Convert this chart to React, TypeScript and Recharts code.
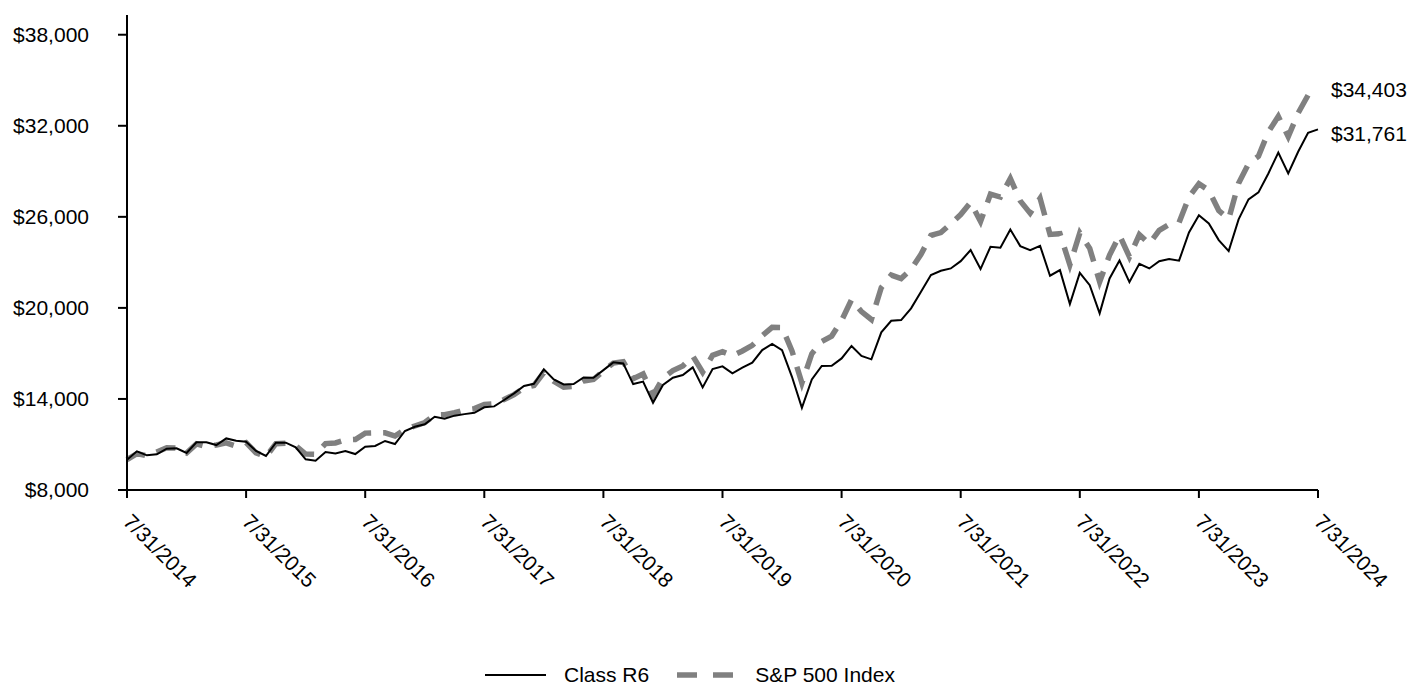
import React from 'react';
import { LineChart, Line, XAxis, YAxis, Legend } from 'recharts';

// Growth of $10,000, monthly from 7/31/2014 to 7/31/2024
const classR6: number[] = [
  10000, 10550, 10285, 10350, 10720, 10750, 10440, 11140, 11140, 10960, 11400, 11250,
  11180, 10570, 10240, 11120, 11120, 10810, 10020, 9930, 10500, 10400, 10570, 10370,
  10855, 10900, 11230, 11030, 11890, 12170, 12330, 12830, 12700, 12900, 13000, 13090,
  13450, 13510, 13930, 14370, 14850, 15000, 15950, 15290, 14960, 14980, 15420, 15400,
  15900, 16410, 16340, 14980, 15140, 13750, 14920, 15400, 15575, 16080, 14760, 15970,
  16150, 15690, 16060, 16390, 17220, 17620, 17220, 15460, 13420, 15290, 16170, 16190,
  16670, 17490, 16830, 16610, 18390, 19150, 19200, 19970, 21060, 22160, 22450, 22600,
  23080, 23810, 22560, 24030, 23960, 25170, 24070, 23810, 24090, 22120, 22490, 20250,
  22310, 21500, 19640, 21940, 23120, 21700, 22910, 22600, 23080, 23220, 23110, 24970,
  26110, 25560, 24470, 23740, 25830, 27150, 27610, 28860, 30240, 28860, 30290, 31540,
  31761,
];

const sp500: number[] = [
  10000, 10400, 10254, 10504, 10787, 10760, 10437, 11037, 10863, 10967, 11109, 10893,
  11122, 10451, 10193, 11053, 11086, 10911, 10370, 10356, 11058, 11101, 11301, 11330,
  11748, 11765, 11767, 11553, 11980, 12217, 12449, 12943, 12959, 13093, 13277, 13360,
  13635, 13677, 13959, 14284, 14723, 14886, 15739, 15158, 14773, 14829, 15187, 15281,
  15850, 16366, 16460, 15334, 15647, 14234, 15374, 15867, 16175, 16830, 15761, 16872,
  17115, 16845, 17160, 17532, 18169, 18718, 18710, 17170, 15050, 16979, 17787, 18141,
  19164, 20542, 19761, 19235, 21341, 22161, 21937, 22543, 23530, 24787, 24960, 25542,
  26150, 26945, 25692, 27493, 27303, 28526, 27052, 26243, 27217, 24844, 24889, 22836,
  24941, 23924, 21720, 23479, 24792, 23364, 24831, 24225, 25114, 25506, 25616, 27309,
  28186, 27738, 26415, 25860, 28221, 29502, 29998, 31600, 32617, 31286, 32838, 34017,
  34403,
];

const dates: string[] = classR6.map((_, i) => {
  const m = (6 + i) % 12;
  const y = 2014 + Math.floor((6 + i) / 12);
  const d = new Date(y, m + 1, 0).getDate();
  return `${m + 1}/${d}/${y}`;
});

const xTickIdx = [0, 12, 24, 36, 48, 60, 72, 84, 96, 108, 120];
const yTicks = [8000, 14000, 20000, 26000, 32000, 38000];

const seriesNames = { r6: 'Class R6', sp: 'S&P 500 Index' };

const data = dates.map((date, i) => ({ idx: i, date, r6: classR6[i], sp: sp500[i] }));

const FONT = 'Arial, "Liberation Sans", sans-serif';
const LAST = data.length - 1;
const money = (v: number) => '$' + v.toLocaleString('en-US');

const XTick = (props: any) => {
  const { x, y, payload } = props;
  const ax = x - 5;
  const ay = y + 23;
  return (
    <text
      x={ax}
      y={ay}
      transform={`rotate(45, ${ax}, ${ay})`}
      textAnchor="start"
      fontSize={21}
      fontFamily={FONT}
      fill="#000"
    >
      {dates[payload.value]}
    </text>
  );
};

const makeEndLabel = (offset: number) => (props: any) => {
  const { x, y, index, value } = props;
  if (index !== LAST) return null;
  return (
    <text
      x={x + 13}
      y={y + offset}
      dy="0.35em"
      textAnchor="start"
      fontSize={21}
      fontFamily={FONT}
      fill="#000"
    >
      {money(value)}
    </text>
  );
};

const LegendContent = () => (
  <div
    style={{
      display: 'flex',
      alignItems: 'center',
      height: 18,
      paddingLeft: 485,
      fontFamily: FONT,
      fontSize: 21,
      color: '#000',
      lineHeight: '18px',
    }}
  >
    <svg width={61} height={10} style={{ display: 'block' }}>
      <line x1={0} y1={5} x2={61} y2={5} stroke="#000" strokeWidth={2} />
    </svg>
    <span style={{ marginLeft: 18 }}>{seriesNames.r6}</span>
    <svg width={56} height={10} style={{ display: 'block', marginLeft: 28 }}>
      <line x1={0} y1={5} x2={56} y2={5} stroke="#808080" strokeWidth={5.5} strokeDasharray="20 16" />
    </svg>
    <span style={{ marginLeft: 22 }}>{seriesNames.sp}</span>
  </div>
);

export default function App() {
  return (
    <div style={{ position: 'absolute', left: 0, top: 0, width: 1408, height: 684, background: '#fff' }}>
      <LineChart
        width={1408}
        height={684}
        data={data}
        margin={{ top: 15, right: 90, left: 0, bottom: 0 }}
      >
        <XAxis
          dataKey="idx"
          type="number"
          domain={[0, 120]}
          ticks={xTickIdx}
          interval={0}
          height={176}
          tickSize={8}
          tickMargin={2}
          axisLine={{ stroke: '#000', strokeWidth: 2 }}
          tickLine={{ stroke: '#000', strokeWidth: 2 }}
          tick={<XTick />}
        />
        <YAxis
          type="number"
          domain={[8000, 39300]}
          ticks={yTicks}
          interval={0}
          allowDataOverflow
          width={127}
          tickSize={9}
          tickMargin={29}
          tickFormatter={money}
          axisLine={{ stroke: '#000', strokeWidth: 2 }}
          tickLine={{ stroke: '#000', strokeWidth: 2 }}
          tick={{ fill: '#000', fontSize: 21, fontFamily: FONT }}
        />
        <Legend verticalAlign="bottom" height={18} content={<LegendContent />} />
        <Line
          dataKey="sp"
          name={seriesNames.sp}
          type="linear"
          stroke="#808080"
          strokeWidth={5.5}
          strokeDasharray="20 12"
          dot={false}
          activeDot={false}
          isAnimationActive={false}
          label={makeEndLabel(0)}
        />
        <Line
          dataKey="r6"
          name={seriesNames.r6}
          type="linear"
          stroke="#000"
          strokeWidth={2}
          dot={false}
          activeDot={false}
          isAnimationActive={false}
          label={makeEndLabel(4)}
        />
      </LineChart>
    </div>
  );
}
